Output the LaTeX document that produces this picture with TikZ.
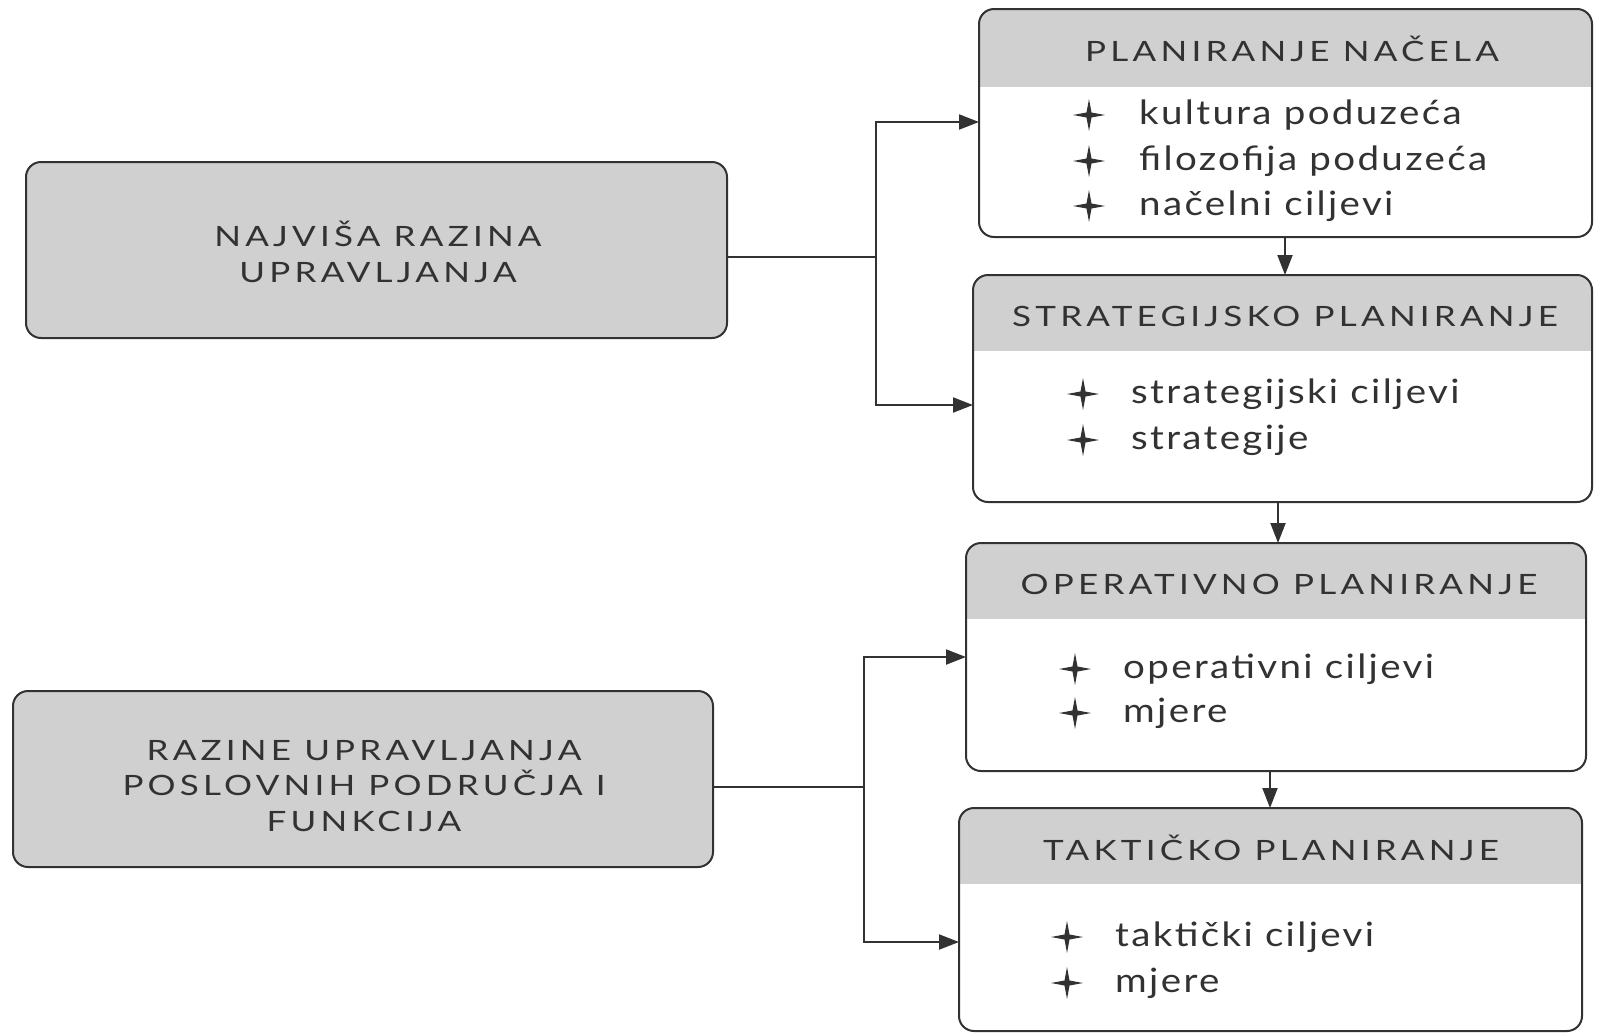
\documentclass[tikz,border=0pt]{standalone}
\usepackage{fontspec}
\setmainfont{Lato}
\newfontfamily\capsfont[FakeStretch=1.25,LetterSpace=15]{Lato}
\newfontfamily\itemfont[FakeStretch=1.15,LetterSpace=7]{Lato}
\usetikzlibrary{arrows.meta,shapes.geometric}
\definecolor{hdrgray}{RGB}{208,208,208}
\definecolor{ink}{RGB}{50,50,50}
\tikzset{
  frame/.style={draw=ink, line width=2pt, rounded corners=15pt},
  conn/.style={draw=ink, line width=2pt},
  arr/.style={conn, -{Triangle[length=20pt,width=15pt]}},
  hdrtext/.style={font=\capsfont\fontsize{28}{34}\selectfont, text=ink},
  itemtext/.style={font=\itemfont\fontsize{33.5}{38}\selectfont, text=ink, anchor=west, inner sep=0pt},
  sparkle/.style={star, star points=4, star point ratio=4.5, minimum size=32pt, inner sep=0pt, fill=ink},
  lefttext/.style={font=\capsfont\fontsize{28}{35.5}\selectfont, text=ink, align=center},
}
% a planning box: name, left, top, right, bottom, header bottom
\newcommand\planbox[6]{%
  \begin{scope}
    \clip[rounded corners=15pt] (#2,#3) rectangle (#4,#5);
    \fill[hdrgray] (#2,#3) rectangle (#4,#6);
  \end{scope}
  \draw[frame] (#2,#3) rectangle (#4,#5);
  \coordinate (#1-nw) at (#2,#3);
  \coordinate (#1-se) at (#4,#5);
}
\begin{document}
\begin{tikzpicture}[x=1pt,y=-1pt]
\useasboundingbox (0,0) rectangle (1597,1034);

% left-hand management levels
\fill[hdrgray, rounded corners=15pt] (26,162) rectangle (727,338);
\draw[frame] (26,162) rectangle (727,338);
\node[lefttext] (top) at (378,252) {NAJVIŠA RAZINA\\UPRAVLJANJA};
\coordinate (topE) at (727,257);

\fill[hdrgray, rounded corners=15pt] (13,691) rectangle (713,867);
\draw[frame] (13,691) rectangle (713,867);
\node[lefttext] (bus) at (364,786) {RAZINE UPRAVLJANJA\\POSLOVNIH PODRUČJA I\\FUNKCIJA};
\coordinate (busE) at (713,787);

% planning boxes
\planbox{p1}{979}{9}{1592}{237}{87}
\planbox{p2}{973}{275}{1592}{502}{351}
\planbox{p3}{966}{543}{1586}{771}{619}
\planbox{p4}{959}{808}{1582}{1031}{884}

\node[hdrtext] (h1) at (1292,49) {PLANIRANJE NAČELA};
\node[sparkle] (s11) at (1089,115) {};
\node[itemtext] (i11) at (1139,115) {kultura poduzeća};
\node[sparkle] (s12) at (1089,161) {};
\node[itemtext] (i12) at (1139,161) {filozofija poduzeća};
\node[sparkle] (s13) at (1089,206) {};
\node[itemtext] (i13) at (1139,206) {načelni ciljevi};

\node[hdrtext] (h2) at (1285,316) {STRATEGIJSKO PLANIRANJE};
\node[sparkle] (s21) at (1083,394) {};
\node[itemtext] (i21) at (1131,394) {strategijski ciljevi};
\node[sparkle] (s22) at (1083,440) {};
\node[itemtext] (i22) at (1131,440) {strategije};

\node[hdrtext] (h3) at (1279,584) {OPERATIVNO PLANIRANJE};
\node[sparkle] (s31) at (1075,669) {};
\node[itemtext] (i31) at (1123,669) {operativni ciljevi};
\node[sparkle] (s32) at (1075,713) {};
\node[itemtext] (i32) at (1123,713) {mjere};

\node[hdrtext] (h4) at (1271,848) {TAKTIČKO PLANIRANJE};
\node[sparkle] (s41) at (1067,937) {};
\node[itemtext] (i41) at (1115,937) {taktički ciljevi};
\node[sparkle] (s42) at (1067,983) {};
\node[itemtext] (i42) at (1115,983) {mjere};

% branching connectors
\coordinate (j1) at (876,257);
\coordinate (j1a) at (876,122);
\coordinate (j1b) at (876,405);
\coordinate (p1in) at (979,122);
\coordinate (p2in) at (973,405);
\draw[conn] (topE) -- (j1);
\draw[arr] (j1) -- (j1a) -- (p1in);
\draw[arr] (j1) -- (j1b) -- (p2in);

\coordinate (j2) at (864,787);
\coordinate (j2a) at (864,657);
\coordinate (j2b) at (864,942);
\coordinate (p3in) at (966,657);
\coordinate (p4in) at (959,942);
\draw[conn] (busE) -- (j2);
\draw[arr] (j2) -- (j2a) -- (p3in);
\draw[arr] (j2) -- (j2b) -- (p4in);

% sequence between planning boxes
\draw[arr] (1285,237) -- (1285,275);
\draw[arr] (1278,502) -- (1278,543);
\draw[arr] (1270,771) -- (1270,808);
\end{tikzpicture}
\end{document}
